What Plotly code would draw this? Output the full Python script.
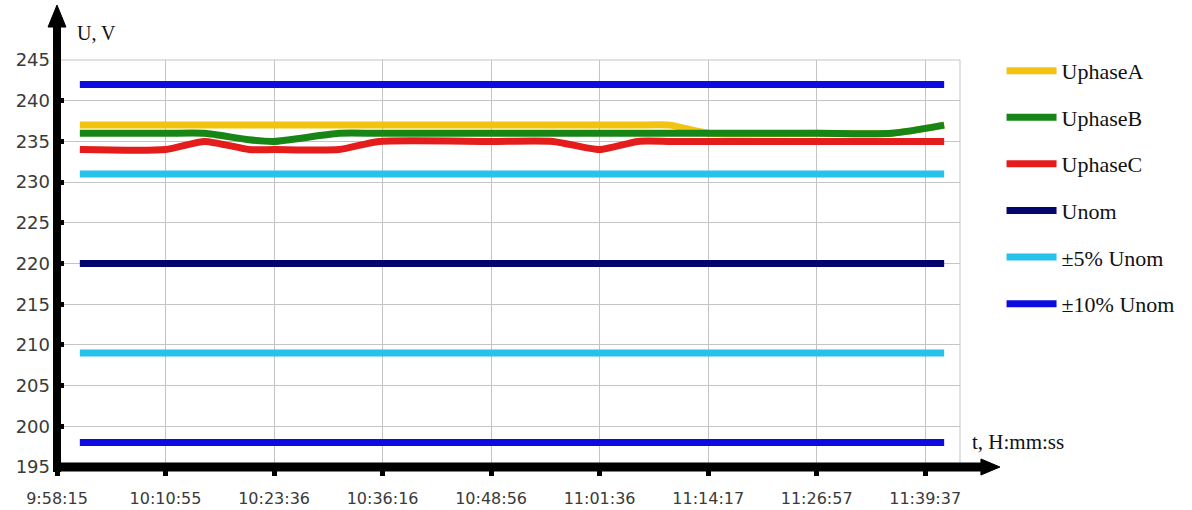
import plotly.graph_objects as go

# ---- data ----
day = "2020-01-01 "
times = ["10:00:55", "10:10:55", "10:15:30", "10:20:40", "10:23:36", "10:31:10",
         "10:35:50", "10:48:56", "10:56:10", "11:01:36", "11:06:05", "11:09:45",
         "11:14:17", "11:26:57", "11:35:45", "11:41:50"]
u_phase_a = [237, 237, 237, 237, 237, 237, 237, 237, 237, 237, 237, 237, 236, 236, 236, 237]
u_phase_b = [236, 236, 236, 235.2, 235, 236, 236, 236, 236, 236, 236, 236, 236, 236, 236, 237]
u_phase_c = [234, 234, 235, 234, 234, 234, 235, 235, 235, 234, 235, 235, 235, 235, 235, 235]
u_nom = 220
u_5_low, u_5_high = 209, 231
u_10_low, u_10_high = 198, 242

tick_times = ["09:58:15", "10:10:55", "10:23:36", "10:36:16", "10:48:56",
              "11:01:36", "11:14:17", "11:26:57", "11:39:37"]
tick_text = ["9:58:15", "10:10:55", "10:23:36", "10:36:16", "10:48:56",
             "11:01:36", "11:14:17", "11:26:57", "11:39:37"]
x_end = "11:43:41"
y_ticks = [195, 200, 205, 210, 215, 220, 225, 230, 235, 240, 245]

x = [day + t for t in times]
n = len(x)

C_A, C_B, C_C = "#f3c40f", "#178617", "#e41c1c"
C_NOM, C_5, C_10 = "#05056e", "#27c1ec", "#0c0ce0"
LW = 7

fig = go.Figure()

def add(name, y, color, show=True, group=None, rank=0):
    fig.add_trace(go.Scatter(
        x=x, y=y, mode="lines", name=name,
        line=dict(color=color, width=LW, shape="spline", smoothing=0.6),
        showlegend=show, legendgroup=group or name, legendrank=rank,
    ))

add("±10% Unom", [u_10_high] * n, C_10, True, "g10", 6)
add("±10% Unom", [u_10_low] * n, C_10, False, "g10", 6)
add("±5% Unom", [u_5_high] * n, C_5, True, "g5", 5)
add("±5% Unom", [u_5_low] * n, C_5, False, "g5", 5)
add("Unom", [u_nom] * n, C_NOM, True, "gn", 4)
add("UphaseA", u_phase_a, C_A, True, "ga", 1)
add("UphaseB", u_phase_b, C_B, True, "gb", 2)
add("UphaseC", u_phase_c, C_C, True, "gc", 3)

GRID = "#c4c4c4"
fig.update_layout(
    width=1192, height=510,
    margin=dict(l=57, r=229, t=60, b=43),
    paper_bgcolor="white", plot_bgcolor="white",
    font=dict(family="DejaVu Sans", color="#3a3a3a"),
    hovermode=False,
    xaxis=dict(
        type="date", range=[day + "09:58:15", day + x_end], automargin=False,
        tickmode="array", tickvals=[day + t for t in tick_times], ticktext=tick_text,
        showgrid=True, gridcolor=GRID, gridwidth=1, zeroline=False, showline=False,
        tickfont=dict(size=16, color="#3a3a3a"),
        ticks="outside", ticklen=8, tickwidth=5, tickcolor="black",
        ticklabelstandoff=9,
    ),
    yaxis=dict(
        range=[195, 245], tickmode="array", tickvals=y_ticks, automargin=False,
        showgrid=True, gridcolor=GRID, gridwidth=1, zeroline=False, showline=False,
        tickfont=dict(size=18, color="#3a3a3a"),
        ticks="inside", ticklen=7, tickwidth=5, tickcolor="black",
        ticklabelstandoff=6,
    ),
    legend=dict(
        x=1.046, y=1.025, xanchor="left", yanchor="top", maxheight=1000,
        font=dict(family="Liberation Serif", size=22, color="#111"),
        traceorder="grouped", tracegroupgap=15, itemwidth=50,
        bgcolor="rgba(0,0,0,0)",
    ),
    showlegend=True,
)

# grid frame (top and right edges)
fig.add_shape(type="line", xref="paper", yref="paper", x0=1, x1=1, y0=0, y1=1,
              line=dict(color=GRID, width=1))
fig.add_shape(type="line", xref="paper", yref="paper", x0=0, x1=1, y0=1, y1=1,
              line=dict(color=GRID, width=1))

# thick black axes with arrows
fig.add_shape(type="line", xref="paper", yref="paper", x0=0, x1=0, y0=-0.012, y1=1.09,
              line=dict(color="black", width=8))
fig.add_shape(type="path", xref="paper", yref="paper",
              path="M -0.0099,1.081 L 0.0099,1.081 L 0,1.135 Z",
              fillcolor="black", line=dict(color="black", width=1))
fig.add_shape(type="line", xref="paper", yref="paper", x0=-0.004, x1=1.03, y0=0, y1=0,
              line=dict(color="black", width=9))
fig.add_shape(type="path", xref="paper", yref="paper",
              path="M 1.0232,0.0197 L 1.0232,-0.0197 L 1.0442,0 Z",
              fillcolor="black", line=dict(color="black", width=1))

# axis titles
fig.add_annotation(text="U, V", xref="paper", yref="paper", x=0.02, y=1.066,
                   xanchor="left", yanchor="middle", showarrow=False,
                   font=dict(family="Liberation Serif", size=20, color="#111"))
fig.add_annotation(text="t, H:mm:ss", xref="paper", yref="paper", x=1.011, y=0.061,
                   xanchor="left", yanchor="middle", showarrow=False,
                   font=dict(family="Liberation Serif", size=21, color="#111"))

fig.write_html("out.html", config={"displayModeBar": False},
               post_script="document.body.style.margin='0';")
